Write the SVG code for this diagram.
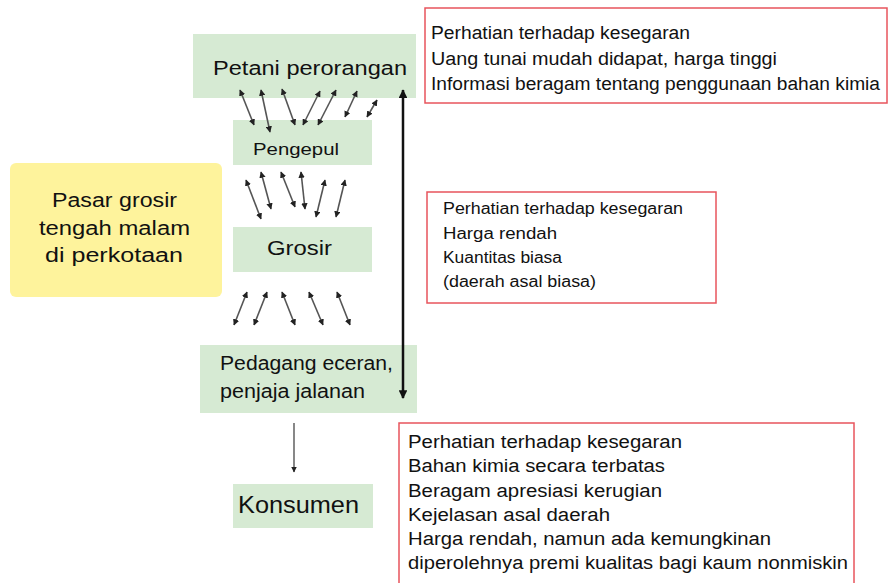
<svg xmlns="http://www.w3.org/2000/svg" width="889" height="583" viewBox="0 0 889 583">
  <style>
    .node { fill: #d6ead3; }
    .note { fill: #ffffff; stroke: #e8545c; stroke-width: 1.5; }
    .market { fill: #fef39c; }
    text { font-family: "Liberation Sans", Arial, sans-serif; fill: #111111; }
    .lbl { font-size: 20px; }
    .txt { font-size: 18px; }
    .sm { font-size: 16px; }
    .flow { stroke: #555555; stroke-width: 1.6; fill: none; marker-start: url(#head); marker-end: url(#head); }
    .main { stroke: #111111; stroke-width: 2.5; fill: none; marker-start: url(#headBig); marker-end: url(#headBig); }
    .down { stroke: #555555; stroke-width: 1.4; fill: none; marker-end: url(#head); }
  </style>
  <defs>
    <marker id="head" viewBox="0 0 10 10" refX="9" refY="5" markerWidth="4" markerHeight="4" orient="auto-start-reverse" markerUnits="strokeWidth">
      <path d="M0,0 L10,5 L0,10 z" fill="#222222"/>
    </marker>
    <marker id="headBig" viewBox="0 0 10 10" refX="9" refY="5" markerWidth="3.5" markerHeight="3.5" orient="auto-start-reverse" markerUnits="strokeWidth">
      <path d="M0,0 L10,5 L0,10 z" fill="#111111"/>
    </marker>
  </defs>

  <!-- supply chain nodes -->
  <g id="petani">
    <rect class="node" x="193" y="34" width="223" height="64"/>
    <text class="lbl" x="213" y="75" font-size="21" textLength="194" lengthAdjust="spacingAndGlyphs">Petani perorangan</text>
  </g>
  <g id="pengepul">
    <rect class="node" x="233" y="120" width="139" height="45"/>
    <text x="253" y="155" font-size="17" textLength="86" lengthAdjust="spacingAndGlyphs">Pengepul</text>
  </g>
  <g id="grosir">
    <rect class="node" x="233" y="227" width="139" height="45"/>
    <text class="lbl" x="267" y="255" textLength="65" lengthAdjust="spacingAndGlyphs">Grosir</text>
  </g>
  <g id="pedagang">
    <rect class="node" x="200" y="345" width="217" height="68"/>
    <text class="lbl" x="220" y="370" textLength="173" lengthAdjust="spacingAndGlyphs">Pedagang eceran,</text>
    <text class="lbl" x="220" y="398" textLength="145" lengthAdjust="spacingAndGlyphs">penjaja jalanan</text>
  </g>
  <g id="konsumen">
    <rect class="node" x="233" y="484" width="140" height="44"/>
    <text x="238" y="513" font-size="24" textLength="121" lengthAdjust="spacingAndGlyphs">Konsumen</text>
  </g>

  <!-- night wholesale market label -->
  <g id="pasar">
    <rect class="market" x="10" y="163" width="212" height="134" rx="6" ry="6"/>
    <text class="lbl" x="52" y="207" textLength="125" lengthAdjust="spacingAndGlyphs">Pasar grosir</text>
    <text class="lbl" x="39" y="235" textLength="151" lengthAdjust="spacingAndGlyphs">tengah malam</text>
    <text class="lbl" x="45" y="262" textLength="138" lengthAdjust="spacingAndGlyphs">di perkotaan</text>
  </g>

  <!-- notes -->
  <g id="note-petani">
    <rect class="note" x="425" y="8" width="462" height="95"/>
    <text class="txt" x="431" y="39" textLength="259" lengthAdjust="spacingAndGlyphs">Perhatian terhadap kesegaran</text>
    <text class="txt" x="431" y="65" textLength="346" lengthAdjust="spacingAndGlyphs">Uang tunai mudah didapat, harga tinggi</text>
    <text class="txt" x="431" y="90" textLength="449" lengthAdjust="spacingAndGlyphs">Informasi beragam tentang penggunaan bahan kimia</text>
  </g>
  <g id="note-grosir">
    <rect class="note" x="427" y="192" width="289" height="111"/>
    <text class="sm" x="443" y="214" textLength="240" lengthAdjust="spacingAndGlyphs">Perhatian terhadap kesegaran</text>
    <text class="sm" x="443" y="239" textLength="114" lengthAdjust="spacingAndGlyphs">Harga rendah</text>
    <text class="sm" x="443" y="263" textLength="119" lengthAdjust="spacingAndGlyphs">Kuantitas biasa</text>
    <text class="sm" x="443" y="287" textLength="153" lengthAdjust="spacingAndGlyphs">(daerah asal biasa)</text>
  </g>
  <g id="note-konsumen">
    <rect class="note" x="399" y="423" width="455" height="180"/>
    <text class="txt" x="408" y="448" textLength="274" lengthAdjust="spacingAndGlyphs">Perhatian terhadap kesegaran</text>
    <text class="txt" x="408" y="472" textLength="257" lengthAdjust="spacingAndGlyphs">Bahan kimia secara terbatas</text>
    <text class="txt" x="408" y="497" textLength="254" lengthAdjust="spacingAndGlyphs">Beragam apresiasi kerugian</text>
    <text class="txt" x="408" y="521" textLength="202" lengthAdjust="spacingAndGlyphs">Kejelasan asal daerah</text>
    <text class="txt" x="408" y="545" textLength="363" lengthAdjust="spacingAndGlyphs">Harga rendah, namun ada kemungkinan</text>
    <text class="txt" x="408" y="569" textLength="440" lengthAdjust="spacingAndGlyphs">diperolehnya premi kualitas bagi kaum nonmiskin</text>
  </g>

  <!-- connectors -->
  <g id="connectors">
    <!-- petani <-> pengepul -->
    <line class="flow" x1="240" y1="90" x2="254" y2="125"/>
    <line class="flow" x1="261" y1="90" x2="270" y2="132"/>
    <line class="flow" x1="282" y1="89" x2="295" y2="125"/>
    <line class="flow" x1="320" y1="91" x2="303" y2="125"/>
    <line class="flow" x1="336" y1="90" x2="318" y2="125"/>
    <line class="flow" x1="357" y1="91" x2="345" y2="117"/>
    <line class="flow" x1="377" y1="100" x2="367" y2="117"/>
    <!-- pengepul <-> grosir -->
    <line class="flow" x1="246" y1="180" x2="261" y2="219"/>
    <line class="flow" x1="261" y1="172" x2="271" y2="209"/>
    <line class="flow" x1="281" y1="172" x2="295" y2="207"/>
    <line class="flow" x1="301" y1="172" x2="305" y2="209"/>
    <line class="flow" x1="325" y1="180" x2="316" y2="217"/>
    <line class="flow" x1="345" y1="180" x2="336" y2="217"/>
    <!-- grosir <-> pedagang -->
    <line class="flow" x1="247" y1="292" x2="234" y2="325"/>
    <line class="flow" x1="267" y1="292" x2="254" y2="325"/>
    <line class="flow" x1="282" y1="292" x2="295" y2="325"/>
    <line class="flow" x1="309" y1="292" x2="323" y2="325"/>
    <line class="flow" x1="337" y1="292" x2="350" y2="325"/>
    <!-- petani <-> pedagang, direct -->
    <line class="main" x1="403" y1="90" x2="403" y2="398"/>
    <!-- pedagang -> konsumen -->
    <line class="down" x1="294" y1="423" x2="294" y2="472"/>
  </g>
</svg>
